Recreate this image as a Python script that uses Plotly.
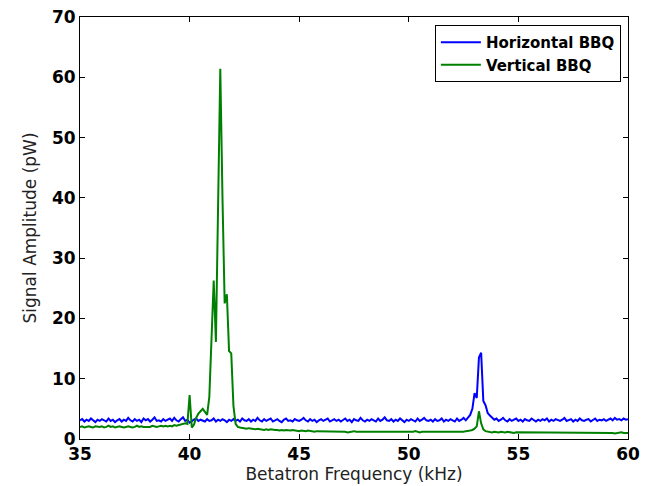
import numpy as np
import plotly.graph_objects as go

freq_khz = np.round(np.linspace(35.0, 60.0, 251), 2)

horizontal_bbq = [
    3.1, 3.3, 2.9, 3.2, 3.0, 3.4, 3.1, 2.8, 3.2, 3.0,
    3.3, 3.1, 2.9, 3.4, 3.0, 3.2, 2.8, 3.1, 3.3, 2.9,
    3.2, 3.0, 3.5, 3.1, 2.9, 3.3, 3.0, 3.2, 2.8, 3.4,
    3.1, 3.3, 2.9, 3.2, 3.6, 3.0, 3.1, 2.9, 3.3, 3.0,
    3.2, 3.4, 3.0, 3.5, 3.1, 2.9, 3.3, 3.6, 3.0, 3.2,
    2.7, 3.0, 3.2, 3.4, 3.0, 3.2, 3.1, 2.9, 3.3, 3.0,
    3.1, 3.4, 2.9, 3.2, 3.0, 3.3, 3.1, 2.8, 3.2, 3.0,
    3.3, 3.0, 3.2, 2.9, 3.4, 3.1, 3.0, 3.3, 2.9, 3.2,
    3.0, 3.5, 3.1, 2.9, 3.3, 3.0, 3.2, 3.4, 2.9, 3.1,
    3.3, 3.0, 2.8, 3.2, 3.4, 3.0, 3.1, 2.9, 3.3, 3.1,
    3.0, 3.2, 3.5, 3.1, 2.9, 3.3, 3.0, 3.2, 2.8, 3.1,
    3.3, 3.0, 3.2, 3.4, 2.9, 3.1, 3.3, 3.0, 3.2, 2.9,
    3.1, 3.4, 3.0, 3.2, 2.8, 3.3, 3.1, 3.0, 3.5, 3.1,
    2.9, 3.2, 3.0, 3.3, 3.1, 2.9, 3.4, 3.0, 3.2, 3.6,
    3.1, 3.0, 3.3, 2.9, 3.2, 3.0, 3.4, 3.1, 2.8, 3.2,
    3.0, 3.3, 3.1, 2.9, 3.4, 3.0, 3.2, 3.5, 3.1, 3.0,
    3.2, 2.9, 3.3, 3.0, 3.1, 3.4, 2.9, 3.2, 3.0, 3.3,
    3.1, 2.9, 3.4, 3.0, 3.2, 3.5, 3.1, 3.6, 4.0, 5.0,
    7.6, 6.8, 13.5, 14.3, 6.3, 5.6, 4.3, 3.9, 3.6, 3.2,
    3.4, 3.0, 3.2, 3.5, 3.1, 2.9, 3.3, 3.0, 3.2, 3.4,
    3.0, 3.2, 2.9, 3.3, 3.1, 3.0, 3.4, 3.1, 2.9, 3.2,
    3.0, 3.3, 3.1, 3.4, 2.9, 3.2, 3.0, 3.3, 3.1, 3.0,
    3.2, 3.5, 3.0, 3.1, 3.3, 2.9, 3.2, 3.0, 3.4, 3.1,
    3.0, 3.2, 3.3, 2.9, 3.1, 3.4, 3.0, 3.2, 3.1, 3.3,
    3.0, 3.2, 3.4, 3.1, 3.5, 3.2, 3.3, 3.1, 3.4, 3.2,
    3.3,
]

vertical_bbq = [
    2.0, 2.1, 1.9, 2.0, 2.1, 2.0, 1.9, 2.1, 2.0, 2.0,
    2.1, 1.9, 2.0, 2.2, 2.0, 2.1, 1.9, 2.0, 2.1, 2.0,
    1.9, 2.0, 2.1, 2.0, 1.9, 2.0, 2.2, 2.0, 2.1, 2.0,
    2.0, 2.1, 2.0, 2.2, 2.1, 2.0, 2.1, 2.2, 2.1, 2.2,
    2.1, 2.2, 2.1, 2.3, 2.2, 2.3, 2.4, 2.5, 2.6, 2.5,
    7.3, 1.9, 2.4, 3.5, 4.2, 4.6, 5.0, 4.5, 4.0, 7.0,
    17.0, 26.3, 16.1, 37.0, 61.4, 40.0, 22.5, 24.0, 14.6, 14.2,
    5.5, 2.5, 2.0, 1.9, 1.8, 1.8, 1.7, 1.8, 1.7, 1.7,
    1.6, 1.7, 1.6, 1.6, 1.5, 1.6, 1.5, 1.6, 1.5, 1.5,
    1.5, 1.4, 1.5, 1.4, 1.5, 1.4, 1.4, 1.5, 1.4, 1.4,
    1.3, 1.4, 1.3, 1.3, 1.4, 1.3, 1.3, 1.2, 1.3, 1.3,
    1.2, 1.3, 1.2, 1.2, 1.3, 1.2, 1.2, 1.2, 1.3, 1.2,
    1.2, 1.2, 1.1, 1.2, 1.2, 1.3, 1.2, 1.2, 1.1, 1.2,
    1.2, 1.1, 1.2, 1.2, 1.1, 1.2, 1.2, 1.1, 1.2, 1.2,
    1.1, 1.2, 1.2, 1.1, 1.2, 1.1, 1.2, 1.2, 1.1, 1.2,
    1.2, 1.1, 1.2, 1.3, 1.2, 1.1, 1.2, 1.2, 1.1, 1.2,
    1.2, 1.1, 1.2, 1.1, 1.2, 1.2, 1.1, 1.2, 1.1, 1.2,
    1.1, 1.2, 1.2, 1.1, 1.2, 1.2, 1.3, 1.3, 1.4, 1.5,
    1.7, 2.1, 4.6, 2.6, 1.6, 1.3, 1.2, 1.2, 1.1, 1.2,
    1.1, 1.1, 1.2, 1.1, 1.1, 1.2, 1.1, 1.1, 1.0, 1.1,
    1.1, 1.0, 1.1, 1.1, 1.0, 1.1, 1.0, 1.1, 1.0, 1.0,
    1.1, 1.0, 1.0, 1.1, 1.0, 1.0, 1.1, 1.0, 1.0, 1.0,
    1.0, 1.1, 1.0, 1.0, 1.0, 1.1, 1.0, 1.0, 1.1, 1.0,
    1.0, 1.0, 1.1, 1.0, 1.0, 1.0, 1.1, 1.0, 1.0, 1.0,
    1.0, 1.1, 1.0, 1.0, 0.9, 1.0, 1.0, 1.1, 1.0, 1.0,
    1.0,
]

x_ticks = [35, 40, 45, 50, 55, 60]
y_ticks = [0, 10, 20, 30, 40, 50, 60, 70]

FONT = "DejaVu Sans"

fig = go.Figure()
fig.add_trace(go.Scatter(x=freq_khz, y=horizontal_bbq, mode="lines",
                         name="Horizontal BBQ",
                         line=dict(color="#0000ff", width=2)))
fig.add_trace(go.Scatter(x=freq_khz, y=vertical_bbq, mode="lines",
                         name="Vertical BBQ",
                         line=dict(color="#008000", width=2)))

axis_common = dict(
    showgrid=False, zeroline=False, showline=True, linecolor="black",
    linewidth=1, mirror="ticks", ticks="inside", ticklen=5,
    tickcolor="black", tickwidth=1, automargin=False,
    tickfont=dict(family=FONT, size=17, color="black", weight="bold"),
)

fig.update_xaxes(range=[35, 60], tickvals=x_ticks, ticktext=[str(v) for v in x_ticks],
                 title=dict(text="Betatron Frequency (kHz)", standoff=4,
                            font=dict(family=FONT, size=17, color="#222222")),
                 **axis_common)
fig.update_yaxes(range=[0, 70], tickvals=y_ticks, ticktext=[str(v) for v in y_ticks],
                 title=dict(text="Signal Amplitude (pW)", standoff=10,
                            font=dict(family=FONT, size=17, color="#222222")),
                 **axis_common)

fig.update_layout(
    width=648, height=486,
    margin=dict(l=80, r=20, t=17, b=47),
    paper_bgcolor="white", plot_bgcolor="white",
    font=dict(family=FONT, color="black"),
    showlegend=True,
    legend=dict(x=0.987, y=0.981, xanchor="right", yanchor="top",
                bordercolor="black", borderwidth=1, bgcolor="white",
                font=dict(family=FONT, size=15, color="black", weight="bold"),
                itemwidth=40, tracegroupgap=4),
)

fig.write_html(
    "out.html",
    config={"displayModeBar": False},
    post_script="document.body.style.margin='0px';document.body.style.overflow='hidden';",
)
